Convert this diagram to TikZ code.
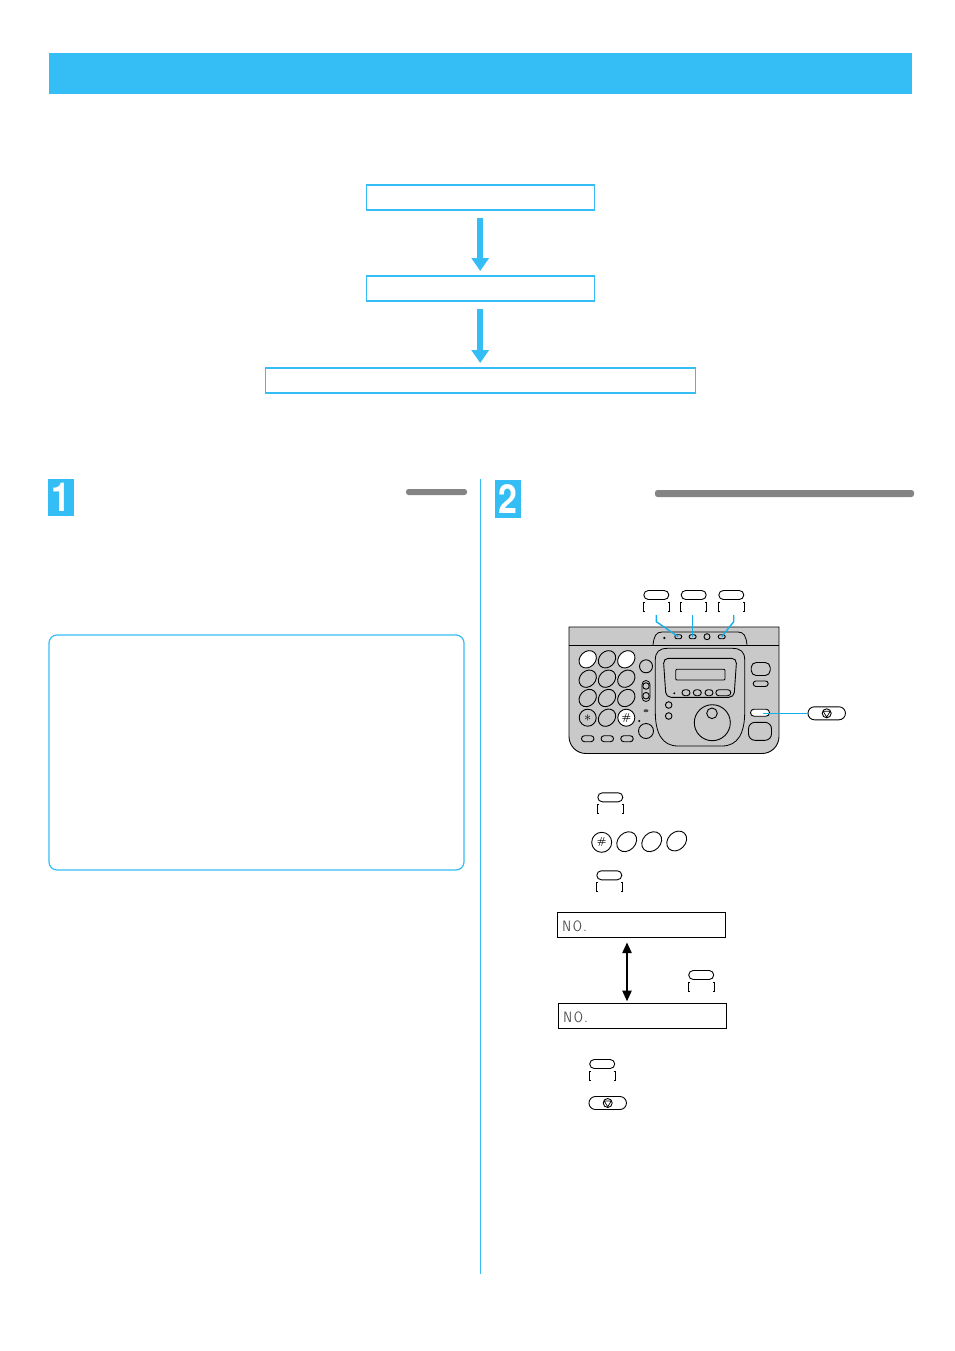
\documentclass[tikz,border=0pt]{standalone}
\usepackage{fontspec}
\newfontfamily\digitfont{TeX Gyre Heros}
\usetikzlibrary{arrows.meta, shapes.geometric, shapes.misc}

\definecolor{skyblue}{HTML}{35BDF5}
\definecolor{leaderblue}{HTML}{12B0E8}
\definecolor{panelgray}{HTML}{C9C9C9}
\definecolor{bargray}{HTML}{848484}

\tikzset{
  flowbox/.style={draw=skyblue, line width=1.3pt, fill=white, outer sep=0pt, inner sep=0pt, minimum height=25pt},
  flowarrow/.style={draw=skyblue, line width=6.5pt, -{Triangle[length=13pt, width=17pt]}, shorten >=5pt, shorten <=8pt},
  lcdbox/.style={draw, line width=1pt, outer sep=0pt, inner sep=0pt, minimum width=168pt, minimum height=25pt},
  lcdtext/.style={font=\sffamily\fontsize{15}{15}\selectfont, text=black!70, xscale=0.85, anchor=west, inner sep=0pt},
  numbox/.style={fill=skyblue, text=white, font=\digitfont\bfseries\fontsize{40}{40}\selectfont, xscale=0.85, inner sep=0pt, outer sep=0pt},
  bar/.style={fill=bargray, rounded corners=2.5pt},
  pill/.style n args={2}{rounded rectangle, draw, line width=0.9pt, inner sep=0pt, outer sep=0pt, minimum width=#1pt, minimum height=#2pt},
  key/.style={ellipse, draw, line width=0.9pt, inner sep=0pt, outer sep=0pt, minimum width=19pt, minimum height=15.5pt, rotate=45},
  symkey/.style={circle, draw, line width=0.9pt, inner sep=0pt, outer sep=0pt, minimum size=17pt, font=\fontsize{10}{10}\selectfont\bfseries},
  roundkey/.style={circle, draw, line width=0.9pt, inner sep=0pt, outer sep=0pt, minimum size=#1pt},
  leader/.style={draw=leaderblue, line width=1.4pt},
  pics/softkey/.style={code={
    \node[pill={25}{9}, fill=white] (-cap) at (0,0) {};
    \draw[line width=0.8pt] (-11.5,7.5) -- (-13,7.5) -- (-13,16) -- (-11.5,16);
    \draw[line width=0.8pt] (11.5,7.5) -- (13,7.5) -- (13,16) -- (11.5,16);
  }},
  pics/stopkey/.style={code={
    \node[pill={37.5}{13}, fill=white] (-cap) at (0,0) {};
    \node[roundkey=9] at (0,0) {};
    \draw[line width=0.7pt] (-3.5,-2) -- (3.5,-2) -- (0,3.8) -- cycle;
  }},
}

\begin{document}
\begin{tikzpicture}[x=1pt, y=-1pt]
\useasboundingbox (0,0) rectangle (954,1351);

% banner and flow
\fill[skyblue] (49,53) rectangle (912,94);
\node[flowbox, minimum width=228pt] (step1) at (480.2,197.5) {};
\node[flowbox, minimum width=228pt] (step2) at (480.2,288.5) {};
\node[flowbox, minimum width=430pt] (step3) at (480.2,380.5) {};
\draw[flowarrow] (step1) -- (step2);
\draw[flowarrow] (step2) -- (step3);

% column heads
\node[numbox, minimum width=26pt/0.85, minimum height=37pt] (num1) at (61,497.5) {1};
\node[numbox, minimum width=26pt/0.85, minimum height=38pt] (num2) at (508,499) {2};
\fill[bar] (406,489) rectangle (467,495);
\fill[bar] (655,490) rectangle (914,497);
\coordinate (divtop) at (480.3,479);
\coordinate (divend) at (480.3,1274);
\draw[skyblue, line width=1.2pt] (divtop) -- (divend);
\draw[skyblue, line width=1.2pt, rounded corners=8pt] (49,635) rectangle (464,870);

% machine body
\draw[line width=0.9pt, fill=panelgray] (569,627) [rounded corners=17pt] -- (569,753.5) -- (779,753.5) -- (779,700) [sharp corners] -- (779,627) -- cycle;
\draw[line width=0.9pt] (569,645) -- (779,645);
\draw[line width=0.8pt] (653,645) .. controls (654,636) and (656,632) .. (662,632) -- (738,632) .. controls (744,632) and (746,636) .. (747,645);

% top row buttons
\fill (664.3,638) circle (1.2pt);
\node[pill={7}{4}] (btna) at (678.3,636.7) {};
\node[pill={7}{4}] (btnb) at (692.6,636.7) {};
\node[roundkey=6] (btnc) at (707,636.7) {};
\node[pill={7}{4}] (btnd) at (721.7,636.7) {};

% keypad
\node[key, fill=white] (k1) at (587.7,659.3) {};
\node[key] (k2) at (607,659.3) {};
\node[key, fill=white] (k3) at (626.3,659.3) {};
\node[key] (k4) at (587.7,678.7) {};
\node[key] (k5) at (607,678.7) {};
\node[key] (k6) at (626.3,678.7) {};
\node[key] (k7) at (587.7,698) {};
\node[key] (k8) at (607,698) {};
\node[key] (k9) at (626.3,698) {};
\node[symkey] (kstar) at (587.7,717.7) {\fontsize{15}{15}\selectfont$\ast$};
\node[key] (k0) at (607,717.7) {};
\node[symkey, fill=white] (khash) at (626.3,717.7) {\#};
\node[pill={12.5}{6}] (p1) at (587.7,738.7) {};
\node[pill={12.5}{6}] (p2) at (607.3,738.7) {};
\node[pill={12.5}{6}] (p3) at (627,738.7) {};

% middle strip
\node[roundkey=13] (m1) at (646,666.3) {};
\draw[line width=0.8pt, rounded corners=4pt] (642,680.5) rectangle (650,701.5);
\node[roundkey=6.5] (m2) at (646,686) {};
\node[roundkey=6.5] (m3) at (646,695.7) {};
\fill[black!70] (646,710.7) ellipse (2.5pt and 1.5pt);
\fill (639.3,721) circle (1.1pt);
\node[roundkey=15] (m4) at (646,731) {};

% centre panel
\draw[line width=0.8pt] (668,648.3) -- (732,648.3) .. controls (741,648.3) and (744.7,652) .. (744.7,660) -- (744.7,712) .. controls (744.7,733) and (738,746) .. (722,746) -- (678,746) .. controls (662,746) and (655.3,733) .. (655.3,712) -- (655.3,660) .. controls (655.3,652) and (659,648.3) .. (668,648.3) -- cycle;
\draw[line width=0.9pt, rounded corners=5pt] (663.3,658.3) -- (736.7,658.3) -- (734,697.3) -- (666,697.3) -- cycle;
\draw[line width=0.8pt, rounded corners=1pt] (675.7,669.3) rectangle (725,680);
\fill (674.3,693.3) circle (1.1pt);
\node[pill={8}{6}] (f1) at (686,692.7) {};
\node[pill={8}{6}] (f2) at (697.3,692.7) {};
\node[pill={8}{6}] (f3) at (709,692.7) {};
\node[pill={15}{6}] (f4) at (723.3,692.7) {};
\node[roundkey=6.6] (c1) at (668.7,705) {};
\node[roundkey=6.6] (c2) at (668.7,716) {};
\node[roundkey=36] (dial) at (712.3,722.7) {};
\node[roundkey=10.6] (dialhub) at (712,713.3) {};

% right side
\node[draw, line width=0.9pt, rounded corners=5pt, minimum width=19pt, minimum height=13pt, inner sep=0pt] (r1) at (760.7,669) {};
\node[pill={15}{5.5}] (r2) at (760.7,683.7) {};
\node[pill={19}{7}, fill=white] (r3) at (760,712.7) {};
\node[draw, line width=0.9pt, rounded corners=6.5pt, minimum width=23pt, minimum height=18pt, inner sep=0pt] (r4) at (760,731.3) {};

% keys above the machine
\pic (upa) at (656.3,595) {softkey};
\pic (upb) at (693.7,595) {softkey};
\pic (upc) at (731.3,595) {softkey};
\coordinate (tipa) at (656.3,615);
\coordinate (tipb) at (692.6,615);
\coordinate (tipc) at (733.7,615);
\draw[leader] (tipa) -- (656.3,621.7) -- (btna.center);
\draw[leader] (tipb) -- (btnb.center);
\draw[leader] (tipc) -- (733.7,621.7) -- (btnd.center);
\pic (stopa) at (826.7,713.3) {stopkey};
\coordinate (stoptail) at (763.3,713.3);
\draw[leader] (stoptail) -- (stopa-cap.west);

% steps
\pic (keya) at (610.3,797.3) {softkey};
\node[symkey, minimum size=20pt] (hash) at (601.7,842.3) {\#};
\node[key, minimum width=22pt, minimum height=17.5pt] (n1) at (626.7,841.7) {};
\node[key, minimum width=22pt, minimum height=17.5pt] (n2) at (651.7,841.7) {};
\node[key, minimum width=22pt, minimum height=17.5pt] (n3) at (676.7,841) {};
\pic (keyb) at (609.3,875.3) {softkey};

\node[lcdbox] (lcda) at (641.3,924.7) {};
\node[lcdbox] (lcdb) at (642.3,1016) {};
\node[lcdtext] at ([xshift=5pt, yshift=-1.5pt]lcda.west) {N\kern2pt O\kern1.5pt.};
\node[lcdtext] at ([xshift=5pt, yshift=-1.5pt]lcdb.west) {N\kern2pt O\kern1.5pt.};
\coordinate (swap) at (627,970);
\draw[line width=2.6pt, {Triangle[length=11pt, width=9pt]}-{Triangle[length=11pt, width=9pt]}, shorten >=2pt, shorten <=5pt] (swap |- lcda.south) -- (swap |- lcdb.north);
\pic (keyc) at (701.2,975) {softkey};

\pic (keyd) at (602.2,1064) {softkey};
\pic (stopb) at (607.7,1103) {stopkey};

\end{tikzpicture}
\end{document}
